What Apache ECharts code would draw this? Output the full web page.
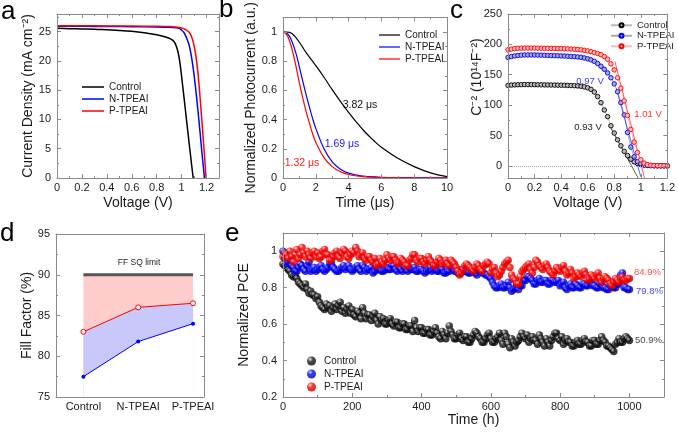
<!DOCTYPE html>
<html>
<head>
<meta charset="utf-8">
<script src="https://cdn.jsdelivr.net/npm/echarts@6/dist/echarts.min.js"></script>
<style>
  html, body { margin: 0; padding: 0; background: #fff; }
  #chart { width: 678px; height: 432px; }
</style>
</head>
<body>
<div id="chart"></div>
<script>
// (a) J-V curves
const jvVoltControl = [0, 0.1, 0.2, 0.3, 0.4, 0.5, 0.6, 0.7, 0.8, 0.85, 0.9, 0.93, 0.95, 0.97, 0.985, 1.0, 1.02, 1.04, 1.06, 1.08, 1.093];
const jvControl     = [25.55, 25.5, 25.45, 25.4, 25.3, 25.2, 25.05, 24.8, 24.45, 24.2, 23.85, 23.5, 22.9, 21.6, 19.9, 17.3, 13.6, 9.8, 6.0, 2.3, 0];
const jvVoltN = [0, 0.2, 0.4, 0.6, 0.8, 0.9, 0.95, 0.98, 1.0, 1.02, 1.04, 1.06, 1.08, 1.1, 1.12, 1.14, 1.16, 1.175, 1.183];
const jvN     = [25.9, 25.89, 25.87, 25.84, 25.78, 25.72, 25.65, 25.55, 25.25, 24.8, 23.9, 22.7, 20.6, 17.6, 13.8, 9.6, 5.0, 1.8, 0];
const jvVoltP = [0, 0.2, 0.4, 0.6, 0.8, 0.9, 0.95, 1.0, 1.03, 1.06, 1.08, 1.1, 1.12, 1.14, 1.16, 1.175, 1.185, 1.196];
const jvP     = [26.0, 25.99, 25.97, 25.95, 25.9, 25.85, 25.78, 25.6, 25.35, 24.9, 24.1, 22.6, 20.0, 15.9, 10.5, 6.3, 3.4, 0];

// (b) transient photocurrent
const tpcTime    = [0, 0.2, 0.4, 0.6, 0.8, 1, 1.2, 1.4, 1.6, 1.8, 2, 2.5, 3, 3.5, 4, 4.5, 5, 5.5, 6, 7, 8, 9, 10];
const tpcControl = [1, 1, 0.998, 0.985, 0.96, 0.93, 0.895, 0.86, 0.83, 0.8, 0.77, 0.69, 0.605, 0.525, 0.45, 0.38, 0.315, 0.26, 0.21, 0.135, 0.078, 0.035, 0.01];
const tpcN       = [1, 0.995, 0.97, 0.92, 0.85, 0.76, 0.665, 0.575, 0.49, 0.41, 0.34, 0.2, 0.11, 0.06, 0.033, 0.02, 0.012, 0.008, 0.005, 0.003, 0.002, 0.001, 0.001];
const tpcP       = [1, 0.985, 0.94, 0.86, 0.76, 0.65, 0.55, 0.46, 0.38, 0.305, 0.245, 0.14, 0.078, 0.043, 0.024, 0.014, 0.008, 0.005, 0.003, 0.002, 0.001, 0.001, 0];

// (c) Mott-Schottky
const msVolt = [0, 0.025, 0.05, 0.075, 0.1, 0.125, 0.15, 0.175, 0.2, 0.225, 0.25, 0.275, 0.3, 0.325, 0.35, 0.375, 0.4, 0.425, 0.45, 0.475,
  0.5, 0.525, 0.55, 0.575, 0.6, 0.625, 0.65, 0.675, 0.7, 0.725, 0.75, 0.775, 0.8, 0.825, 0.85, 0.875, 0.9, 0.925, 0.95, 0.975,
  1.0, 1.025, 1.05, 1.075, 1.1, 1.125, 1.15, 1.175, 1.2];
const msControl = [132.5, 133, 133.3, 133.5, 133.7, 133.8, 133.8, 133.7, 133.6, 133.5, 133.4, 133.3, 133.2, 133.1, 133, 132.9, 132.8, 132.6, 132.4, 132.2,
  132, 131.6, 131, 130, 128.5, 126, 121.5, 114, 104, 92, 81, 66, 54, 43, 33, 24, 17, 11, 6.5, 4,
  2.2, 1.3, 0.8, 0.5, 0.3, 0.2, 0.1, 0.1, 0];
const msN = [178.5, 180, 181, 181.8, 182.2, 182.5, 182.6, 182.6, 182.5, 182.4, 182.2, 182, 181.8, 181.6, 181.4, 181.2, 181, 180.8, 180.5, 180.2,
  179.8, 179.3, 178.6, 177.6, 176.3, 174.5, 172, 168.5, 164, 159, 153, 145, 135, 122, 104, 84, 55, 31, 15, 7,
  3.5, 1.6, 0.8, 0.4, 0.2, 0.1, 0.1, 0, 0];
const msP = [191, 192.2, 193, 193.5, 193.8, 194, 194, 194, 193.9, 193.8, 193.7, 193.6, 193.5, 193.4, 193.3, 193.1, 193, 192.8, 192.6, 192.3,
  192, 191.6, 191, 190.2, 189.2, 188, 186.5, 185, 183, 180, 175.5, 168, 158, 145, 128, 107, 83, 60, 39, 22,
  10, 4.5, 2, 1, 0.6, 0.4, 0.3, 0.2, 0.1];
// tangent lines (end points)
const tanVoltControl = [0.76, 0.98], tanControl = [68, -20];
const tanVoltN = [0.815, 1.0], tanN = [128, -18];
const tanVoltP = [0.805, 1.03], tanP = [172, -22];

// (d) fill factor losses
const ffPos    = [0, 1, 2];
const ffNames  = ['Control', 'N-TPEAI', 'P-TPEAI'];
const ffSQ     = [90, 90, 90];
const ffNonRad = [83, 86, 86.5];
const ffActual = [77.5, 81.8, 84];

// (e) stability, one reading every 5 h
const hours = [
  0, 5, 10, 15, 20, 25, 30, 35, 40, 45, 50, 55, 60, 65, 70, 75, 80, 85, 90, 95,
  100, 105, 110, 115, 120, 125, 130, 135, 140, 145, 150, 155, 160, 165, 170, 175, 180, 185, 190, 195,
  200, 205, 210, 215, 220, 225, 230, 235, 240, 245, 250, 255, 260, 265, 270, 275, 280, 285, 290, 295,
  300, 305, 310, 315, 320, 325, 330, 335, 340, 345, 350, 355, 360, 365, 370, 375, 380, 385, 390, 395,
  400, 405, 410, 415, 420, 425, 430, 435, 440, 445, 450, 455, 460, 465, 470, 475, 480, 485, 490, 495,
  500, 505, 510, 515, 520, 525, 530, 535, 540, 545, 550, 555, 560, 565, 570, 575, 580, 585, 590, 595,
  600, 605, 610, 615, 620, 625, 630, 635, 640, 645, 650, 655, 660, 665, 670, 675, 680, 685, 690, 695,
  700, 705, 710, 715, 720, 725, 730, 735, 740, 745, 750, 755, 760, 765, 770, 775, 780, 785, 790, 795,
  800, 805, 810, 815, 820, 825, 830, 835, 840, 845, 850, 855, 860, 865, 870, 875, 880, 885, 890, 895,
  900, 905, 910, 915, 920, 925, 930, 935, 940, 945, 950, 955, 960, 965, 970, 975, 980, 985, 990, 995,
  1000];
const pceControl = [
  0.93, 0.92, 0.91, 0.90, 0.89, 0.87, 0.86, 0.87, 0.85, 0.83, 0.82, 0.81, 0.80, 0.82, 0.79, 0.77, 0.78, 0.76, 0.76, 0.74,
  0.75, 0.72, 0.70, 0.69, 0.68, 0.71, 0.69, 0.70, 0.67, 0.69, 0.71, 0.68, 0.70, 0.72, 0.67, 0.69, 0.66, 0.68, 0.70, 0.66,
  0.68, 0.65, 0.64, 0.67, 0.66, 0.63, 0.69, 0.66, 0.63, 0.65, 0.65, 0.62, 0.64, 0.66, 0.62, 0.60, 0.64, 0.62, 0.63, 0.60,
  0.60, 0.62, 0.63, 0.60, 0.59, 0.61, 0.61, 0.58, 0.58, 0.60, 0.60, 0.57, 0.57, 0.59, 0.59, 0.56, 0.62, 0.58, 0.56, 0.58,
  0.58, 0.55, 0.55, 0.57, 0.57, 0.54, 0.54, 0.56, 0.58, 0.55, 0.53, 0.52, 0.56, 0.54, 0.52, 0.55, 0.59, 0.56, 0.54, 0.52,
  0.52, 0.54, 0.55, 0.52, 0.51, 0.53, 0.53, 0.50, 0.50, 0.52, 0.54, 0.56, 0.55, 0.53, 0.52, 0.50, 0.50, 0.52, 0.54, 0.55,
  0.52, 0.50, 0.50, 0.52, 0.53, 0.55, 0.51, 0.49, 0.55, 0.53, 0.49, 0.47, 0.52, 0.50, 0.48, 0.50, 0.51, 0.53, 0.55, 0.53,
  0.52, 0.54, 0.50, 0.52, 0.53, 0.51, 0.51, 0.49, 0.54, 0.52, 0.50, 0.48, 0.52, 0.50, 0.48, 0.51, 0.53, 0.55, 0.55, 0.52,
  0.51, 0.53, 0.49, 0.51, 0.52, 0.50, 0.50, 0.48, 0.48, 0.50, 0.51, 0.49, 0.49, 0.51, 0.52, 0.50, 0.50, 0.48, 0.48, 0.51,
  0.51, 0.49, 0.49, 0.51, 0.53, 0.51, 0.50, 0.48, 0.48, 0.47, 0.46, 0.45, 0.49, 0.50, 0.52, 0.50, 0.50, 0.52, 0.53, 0.52,
  0.51];
const pceN = [
  1.00, 0.96, 0.93, 0.94, 0.95, 0.92, 0.91, 0.89, 0.89, 0.91, 0.93, 0.92, 0.90, 0.89, 0.92, 0.94, 0.89, 0.90, 0.91, 0.89,
  0.90, 0.91, 0.92, 0.90, 0.89, 0.90, 0.91, 0.93, 0.93, 0.91, 0.90, 0.89, 0.89, 0.90, 0.91, 0.92, 0.90, 0.91, 0.92, 0.90,
  0.89, 0.90, 0.91, 0.92, 0.90, 0.89, 0.92, 0.91, 0.89, 0.90, 0.90, 0.91, 0.88, 0.89, 0.91, 0.90, 0.90, 0.89, 0.89, 0.90,
  0.91, 0.90, 0.90, 0.92, 0.92, 0.90, 0.89, 0.91, 0.90, 0.89, 0.91, 0.90, 0.89, 0.91, 0.90, 0.90, 0.91, 0.89, 0.89, 0.90,
  0.90, 0.89, 0.88, 0.89, 0.90, 0.91, 0.89, 0.90, 0.91, 0.89, 0.89, 0.90, 0.90, 0.88, 0.88, 0.89, 0.89, 0.91, 0.91, 0.89,
  0.89, 0.88, 0.88, 0.90, 0.90, 0.89, 0.89, 0.88, 0.88, 0.89, 0.89, 0.88, 0.87, 0.89, 0.89, 0.88, 0.88, 0.87, 0.87, 0.86,
  0.85, 0.83, 0.81, 0.80, 0.80, 0.81, 0.82, 0.80, 0.80, 0.81, 0.83, 0.80, 0.78, 0.79, 0.80, 0.81, 0.79, 0.81, 0.81, 0.84,
  0.84, 0.86, 0.86, 0.85, 0.84, 0.82, 0.82, 0.84, 0.85, 0.83, 0.83, 0.84, 0.84, 0.82, 0.82, 0.84, 0.84, 0.83, 0.83, 0.84,
  0.81, 0.82, 0.83, 0.80, 0.79, 0.81, 0.82, 0.80, 0.80, 0.82, 0.81, 0.80, 0.80, 0.82, 0.82, 0.81, 0.81, 0.83, 0.83, 0.81,
  0.81, 0.80, 0.80, 0.82, 0.82, 0.80, 0.80, 0.79, 0.79, 0.81, 0.81, 0.80, 0.80, 0.82, 0.82, 0.87, 0.88, 0.80, 0.80, 0.79,
  0.79];
const pceP = [
  0.97, 0.99, 0.98, 0.96, 1.00, 0.97, 0.94, 0.98, 1.01, 0.96, 0.98, 1.02, 0.99, 0.97, 1.00, 0.98, 0.96, 0.99, 1.00, 0.97,
  0.99, 0.96, 0.97, 1.00, 1.01, 0.98, 0.98, 0.95, 0.95, 0.97, 0.99, 1.00, 0.97, 0.96, 0.99, 1.01, 1.00, 0.97, 0.96, 0.98,
  1.00, 0.99, 1.02, 1.00, 0.97, 0.98, 0.99, 0.96, 0.95, 0.97, 0.97, 0.95, 0.94, 0.96, 0.92, 0.93, 0.96, 0.94, 0.93, 0.95,
  0.98, 0.96, 0.95, 0.97, 0.97, 0.95, 0.93, 0.94, 0.96, 0.95, 0.94, 0.92, 0.92, 0.95, 0.96, 0.98, 0.98, 0.95, 0.94, 0.96,
  0.96, 0.94, 0.93, 0.95, 0.97, 0.95, 0.94, 0.92, 0.92, 0.94, 0.96, 0.95, 0.93, 0.94, 0.95, 0.93, 0.92, 0.95, 0.94, 0.93,
  0.91, 0.89, 0.87, 0.88, 0.90, 0.92, 0.93, 0.92, 0.91, 0.90, 0.89, 0.91, 0.93, 0.92, 0.90, 0.89, 0.92, 0.93, 0.94, 0.93,
  0.88, 0.90, 0.91, 0.88, 0.86, 0.87, 0.89, 0.91, 0.93, 0.94, 0.95, 0.91, 0.87, 0.85, 0.84, 0.82, 0.82, 0.86, 0.89, 0.90,
  0.91, 0.92, 0.93, 0.90, 0.88, 0.91, 0.95, 0.94, 0.92, 0.91, 0.90, 0.92, 0.93, 0.91, 0.89, 0.88, 0.87, 0.89, 0.91, 0.90,
  0.89, 0.91, 0.92, 0.89, 0.87, 0.88, 0.90, 0.88, 0.85, 0.86, 0.88, 0.87, 0.86, 0.88, 0.89, 0.87, 0.84, 0.85, 0.87, 0.86,
  0.85, 0.87, 0.88, 0.85, 0.83, 0.85, 0.86, 0.85, 0.84, 0.82, 0.81, 0.83, 0.85, 0.84, 0.83, 0.85, 0.86, 0.84, 0.84, 0.85,
  0.85];

const FONT = '"Liberation Sans", Arial, sans-serif';
const FRAME = '#8a8a8a';
const INK = '#1a1a1a';

const zip = (xs, ys) => xs.map((x, i) => [x, ys[i]]);
const tenths = v => (Math.round(v * 100) % 20 === 0 ? String(+v.toFixed(1)) : '');
const every = step => v => (Math.round(v * 1000) % Math.round(step * 1000) === 0 ? String(v) : '');

// bottom/left axis with labels + mirrored top/right frame axis
function axes(dir, gridIndex, o) {
  const common = {
    type: 'value', gridIndex, min: o.min, max: o.max, z: 5,
    axisLine: {show: true, onZero: false, lineStyle: {color: FRAME, width: 1}},
    axisTick: {show: o.tick !== false, inside: true, length: 4, lineStyle: {color: FRAME}},
    minorTick: {show: o.tick !== false, splitNumber: 2, length: 2, lineStyle: {color: FRAME}},
    splitLine: {show: false}
  };
  if (o.interval) common.interval = o.interval;
  if (o.splitNumber) common.splitNumber = o.splitNumber;
  const main = Object.assign({}, common, {
    position: dir === 'x' ? 'bottom' : 'left',
    axisLabel: {color: INK, fontSize: 11, fontFamily: FONT, margin: dir === 'x' ? 4 : 6,
      formatter: o.fmt, showMinLabel: true, showMaxLabel: true, hideOverlap: false},
    name: o.name || '', nameLocation: 'middle', nameGap: o.gap || 18,
    nameTextStyle: {color: INK, fontSize: 14, fontFamily: FONT}
  });
  const mirror = Object.assign({}, common, {
    position: dir === 'x' ? 'top' : 'right', axisLabel: {show: false}
  });
  return [main, mirror];
}

function ball(base, light, dark) {
  return new echarts.graphic.RadialGradient(0.35, 0.3, 0.75, [
    {offset: 0, color: light}, {offset: 0.4, color: base}, {offset: 1, color: dark}
  ]);
}

function txt(x, y, text, color, size, align) {
  return {
    type: 'text', x, y, silent: true,
    style: {text, fill: color, font: size + 'px ' + FONT, textAlign: align || 'center', textVerticalAlign: 'middle'}
  };
}

const chart = echarts.init(document.getElementById('chart'));

const xAxis = [].concat(
  axes('x', 0, {min: 0, max: 1.3, interval: 0.2, fmt: tenths, name: 'Voltage (V)', gap: 18}),
  axes('x', 1, {min: 0, max: 10, interval: 2, fmt: every(2), name: 'Time (μs)', gap: 18}),
  axes('x', 2, {min: 0, max: 1.2, interval: 0.2, fmt: tenths, name: 'Voltage (V)', gap: 18}),
  axes('x', 3, {min: -0.5, max: 2.2, interval: 0.5, tick: false,
    fmt: v => (Number.isInteger(v) && v >= 0 ? ffNames[v] : '')}),
  axes('x', 4, {min: 0, max: 1100, interval: 200, fmt: every(200), name: 'Time (h)', gap: 16})
);
const yAxis = [].concat(
  axes('y', 0, {min: 0, max: 28, interval: 5, fmt: every(5), name: 'Current Density (mA cm⁻²)', gap: 22}),
  axes('y', 1, {min: 0, max: 1.1, interval: 0.2, fmt: tenths, name: 'Normalized Photocurrent (a.u.)', gap: 22}),
  axes('y', 2, {min: -20, max: 250, splitNumber: 5, fmt: every(50)}),
  axes('y', 3, {min: 75, max: 95, interval: 5, fmt: every(5), name: 'Fill Factor (%)', gap: 19}),
  axes('y', 4, {min: 0.2, max: 1.1, interval: 0.2, fmt: tenths, name: 'Normalized PCE', gap: 27})
);

const legendBase = {orient: 'vertical', selectedMode: false, formatter: n => n.slice(2),
  textStyle: {color: INK, fontSize: 10, fontFamily: FONT, lineHeight: 12}};

const option = {
  animation: false,
  backgroundColor: '#fff',
  grid: [
    {left: 57, top: 14, width: 162, height: 164},
    {left: 283, top: 14, width: 164, height: 164},
    {left: 508, top: 14, width: 162, height: 164},
    {left: 56, top: 234, width: 148, height: 163},
    {left: 283, top: 233, width: 381, height: 164}
  ],
  xAxis, yAxis,
  legend: [
    Object.assign({}, legendBase, {left: 77, top: 76, icon: 'rect', itemWidth: 22, itemHeight: 1.5, itemGap: 0,
      data: ['a:Control', 'a:N-TPEAI', 'a:P-TPEAI']}),
    Object.assign({}, legendBase, {left: 374, top: 24, icon: 'rect', itemWidth: 21, itemHeight: 1.2, itemGap: 0,
      data: ['b:Control', 'b:N-TPEAI', 'b:P-TPEAI']}),
    Object.assign({}, legendBase, {left: 605, top: 15, itemWidth: 21, itemHeight: 5, itemGap: 0,
      data: ['c:Control', 'c:N-TPEAI', 'c:P-TPEAI'],
      textStyle: {color: INK, fontSize: 9.5, fontFamily: FONT, lineHeight: 10.5}}),
    Object.assign({}, legendBase, {left: 302, top: 351, icon: 'circle', itemWidth: 9, itemHeight: 9, itemGap: 3,
      data: ['e:Control', 'e:N-TPEAI', 'e:P-TPEAI'],
      textStyle: {color: INK, fontSize: 10, fontFamily: FONT, padding: [0, 0, 0, 3]}})
  ],
  graphic: [
    txt(1, 12, 'a', '#000', 26, 'left'),
    txt(219, 10, 'b', '#000', 26, 'left'),
    txt(450, 11, 'c', '#000', 26, 'left'),
    txt(0, 234, 'd', '#000', 26, 'left'),
    txt(225, 234, 'e', '#000', 26, 'left'),
    txt(360, 105, '3.82 μs', '#111', 10.5),
    txt(342, 144, '1.69 μs', '#2020ff', 10.5),
    txt(302, 163, '1.32 μs', '#ff2020', 10.5),
    txt(590, 81, '0.97 V', '#3a3aff', 9.5),
    txt(648, 114, '1.01 V', '#ff3030', 9.5),
    txt(588, 127, '0.93 V', '#222', 9.5),
    Object.assign(txt(477, 77, 'C⁻² (10¹⁴F⁻²)', INK, 14), {rotation: Math.PI / 2}),
    txt(139, 263, 'FF SQ limit', '#222', 8.5),
    txt(134, 292, 'Non-radiative loss', '#222', 8.5),
    txt(133, 327, 'Transport loss', '#222', 8.5),
    txt(634, 272, '84.9%', '#ff4d4d', 9.5, 'left'),
    txt(636, 291, '79.8%', '#4a4aff', 9.5, 'left'),
    txt(635, 340, '50.9%', '#444', 9.5, 'left')
  ],
  series: [
    // (a)
    {name: 'a:Control', type: 'line', xAxisIndex: 0, yAxisIndex: 0, data: zip(jvVoltControl, jvControl),
      symbol: 'none', smooth: 0.35, color: '#000', lineStyle: {width: 1.5}},
    {name: 'a:N-TPEAI', type: 'line', xAxisIndex: 0, yAxisIndex: 0, data: zip(jvVoltN, jvN),
      symbol: 'none', smooth: 0.35, color: '#0000ff', lineStyle: {width: 1.5}},
    {name: 'a:P-TPEAI', type: 'line', xAxisIndex: 0, yAxisIndex: 0, data: zip(jvVoltP, jvP),
      symbol: 'none', smooth: 0.35, color: '#ff0000', lineStyle: {width: 1.5}},
    // (b)
    {name: 'b:Control', type: 'line', xAxisIndex: 2, yAxisIndex: 2, data: zip(tpcTime, tpcControl),
      symbol: 'none', smooth: 0.4, color: '#000', lineStyle: {width: 1.2}},
    {name: 'b:N-TPEAI', type: 'line', xAxisIndex: 2, yAxisIndex: 2, data: zip(tpcTime, tpcN),
      symbol: 'none', smooth: 0.4, color: '#0000ff', lineStyle: {width: 1.2}},
    {name: 'b:P-TPEAI', type: 'line', xAxisIndex: 2, yAxisIndex: 2, data: zip(tpcTime, tpcP),
      symbol: 'none', smooth: 0.4, color: '#ff0000', lineStyle: {width: 1.2}},
    // (c)
    {name: 'c:Control', type: 'line', xAxisIndex: 4, yAxisIndex: 4, data: zip(msVolt, msControl),
      symbol: 'circle', symbolSize: 4.5, color: '#000', lineStyle: {width: 1},
      itemStyle: {color: '#bbb', borderColor: '#000', borderWidth: 0.9},
      markLine: {silent: true, symbol: 'none', label: {show: false},
        lineStyle: {color: '#aaa', type: 'dotted', width: 1}, data: [{yAxis: 0}]}},
    {name: 'c:N-TPEAI', type: 'line', xAxisIndex: 4, yAxisIndex: 4, data: zip(msVolt, msN),
      symbol: 'circle', symbolSize: 4.5, color: '#0000ff', lineStyle: {width: 1},
      itemStyle: {color: '#aab', borderColor: '#0000ff', borderWidth: 0.9}},
    {name: 'c:P-TPEAI', type: 'line', xAxisIndex: 4, yAxisIndex: 4, data: zip(msVolt, msP),
      symbol: 'circle', symbolSize: 4.5, color: '#ff0000', lineStyle: {width: 1},
      itemStyle: {color: '#fbb', borderColor: '#ff0000', borderWidth: 0.9}},
    {type: 'line', xAxisIndex: 4, yAxisIndex: 4, data: zip(tanVoltControl, tanControl), symbol: 'none',
      lineStyle: {color: '#333', width: 0.8}},
    {type: 'line', xAxisIndex: 4, yAxisIndex: 4, data: zip(tanVoltN, tanN), symbol: 'none',
      lineStyle: {color: '#3333ff', width: 0.8}},
    {type: 'line', xAxisIndex: 4, yAxisIndex: 4, data: zip(tanVoltP, tanP), symbol: 'none',
      lineStyle: {color: '#ff3333', width: 0.8}},
    // (d) areas layered from top down
    {type: 'line', xAxisIndex: 6, yAxisIndex: 6, data: zip(ffPos, ffSQ), symbol: 'none', z: 1,
      lineStyle: {color: '#555', width: 3}, areaStyle: {color: '#ffcccc', opacity: 1, origin: 'start'}},
    {type: 'line', xAxisIndex: 6, yAxisIndex: 6, data: zip(ffPos, ffNonRad), symbol: 'none', z: 2,
      lineStyle: {width: 0}, areaStyle: {color: '#c8c8fa', opacity: 1, origin: 'start'}},
    {type: 'line', xAxisIndex: 6, yAxisIndex: 6, data: zip(ffPos, ffActual), symbol: 'none', z: 3,
      lineStyle: {width: 0}, areaStyle: {color: '#ffffff', opacity: 1, origin: 'start'}},
    {type: 'line', xAxisIndex: 6, yAxisIndex: 6, data: zip(ffPos, ffNonRad), z: 4,
      symbol: 'circle', symbolSize: 5, lineStyle: {color: '#ff0000', width: 1},
      itemStyle: {color: '#fff', borderColor: '#ff0000', borderWidth: 1}},
    {type: 'line', xAxisIndex: 6, yAxisIndex: 6, data: zip(ffPos, ffActual), z: 4,
      symbol: 'circle', symbolSize: 4, lineStyle: {color: '#0000ff', width: 1},
      itemStyle: {color: '#0000ff'}},
    // (e)
    {name: 'e:Control', type: 'scatter', xAxisIndex: 8, yAxisIndex: 8, data: zip(hours, pceControl),
      symbolSize: 7.5, itemStyle: {color: ball('#1a1a1a', '#e0e0e0', '#000')}},
    {name: 'e:N-TPEAI', type: 'scatter', xAxisIndex: 8, yAxisIndex: 8, data: zip(hours, pceN),
      symbolSize: 7.5, itemStyle: {color: ball('#0000ff', '#c8c8ff', '#0000b0')}},
    {name: 'e:P-TPEAI', type: 'scatter', xAxisIndex: 8, yAxisIndex: 8, data: zip(hours, pceP),
      symbolSize: 7.5, itemStyle: {color: ball('#ff0000', '#ffd0d0', '#c00000')}}
  ]
};

chart.setOption(option);
</script>
</body>
</html>
